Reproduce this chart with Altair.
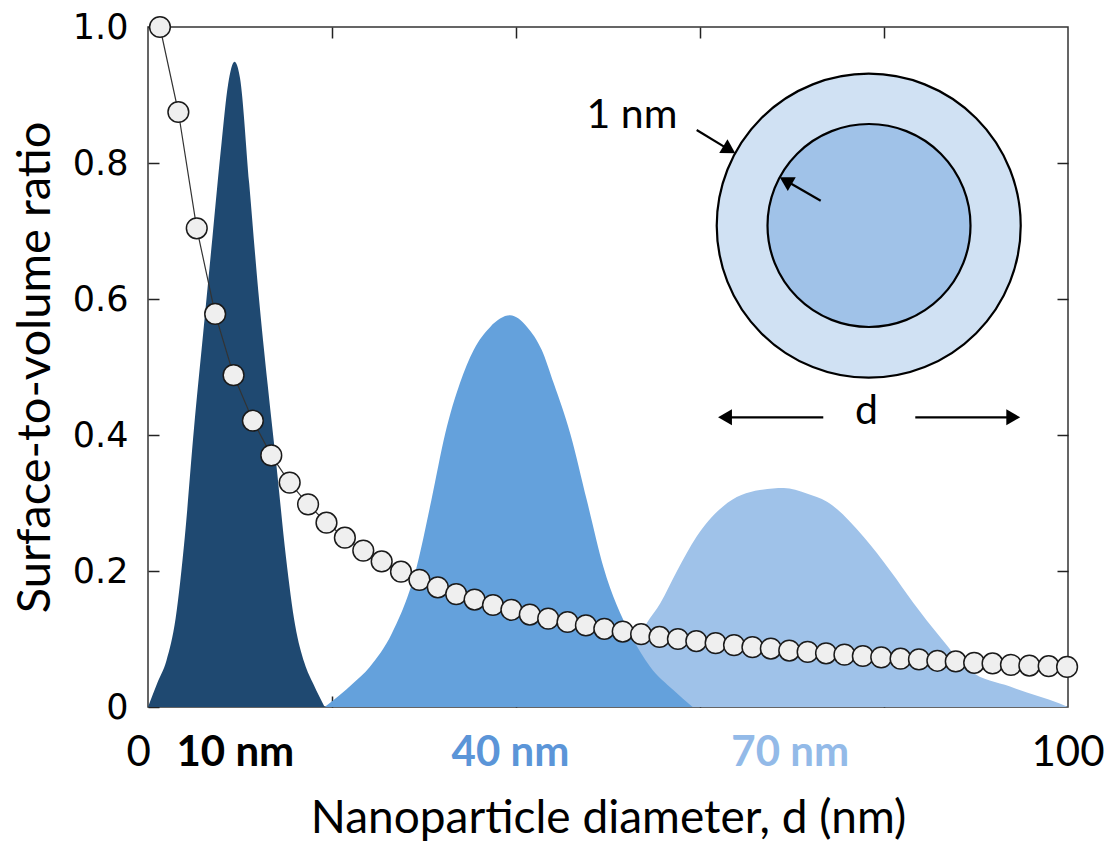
import altair as alt
import pandas as pd

# ---------------- data ----------------
ratio_d = [1.3, 3.3, 5.3, 7.3, 9.3, 11.4, 13.4, 15.4, 17.4, 19.4,
           21.4, 23.4, 25.4, 27.5, 29.5, 31.5, 33.5, 35.5, 37.5, 39.5,
           41.5, 43.5, 45.6, 47.6, 49.6, 51.6, 53.6, 55.6, 57.6, 59.6,
           61.7, 63.7, 65.7, 67.7, 69.7, 71.7, 73.7, 75.7, 77.7, 79.7,
           81.8, 83.8, 85.8, 87.8, 89.8, 91.8, 93.8, 95.8, 97.9, 99.9]
ratio_v = [1.0, 0.875, 0.704, 0.578, 0.488, 0.421, 0.370, 0.330, 0.298, 0.271,
           0.249, 0.230, 0.214, 0.199, 0.187, 0.176, 0.166, 0.158, 0.150, 0.143,
           0.136, 0.130, 0.125, 0.120, 0.115, 0.111, 0.107, 0.103, 0.100, 0.097,
           0.094, 0.091, 0.088, 0.086, 0.083, 0.081, 0.079, 0.077, 0.075, 0.073,
           0.071, 0.070, 0.068, 0.067, 0.065, 0.064, 0.062, 0.061, 0.060, 0.059]

dark_d = [0, 1, 2, 3, 4, 5, 6, 7, 8, 8.7, 9.4, 10, 11, 12, 13, 14, 15, 16, 17, 18, 19.2]
dark_v = [0, 0.035, 0.068, 0.13, 0.25, 0.41, 0.55, 0.69, 0.83, 0.915, 0.949, 0.925, 0.77, 0.61, 0.475, 0.35, 0.22, 0.12, 0.065, 0.033, 0]

med_d = [19.2, 22.3, 24.1, 26.5, 29.2, 30.8, 32.3, 33.9, 35.4, 37.2, 39.35, 41.2, 42.8, 44.1, 45.9, 47.7, 49.5, 52.4, 54.6, 57.1, 59.2]
med_v = [0, 0.035, 0.059, 0.108, 0.206, 0.304, 0.402, 0.476, 0.525, 0.559, 0.576, 0.559, 0.525, 0.476, 0.402, 0.304, 0.206, 0.108, 0.059, 0.025, 0]

light_d = [46, 50, 52.5, 54.2, 55.7, 57.5, 59.6, 62.5, 66.5, 69.1, 71.6, 73.8, 77.8, 80.7, 83.2, 86.1, 89.3, 93.7, 99.1, 100]
light_v = [0, 0.04, 0.08, 0.123, 0.153, 0.20, 0.25, 0.295, 0.319, 0.322, 0.314, 0.302, 0.25, 0.20, 0.153, 0.103, 0.054, 0.03, 0.005, 0]

x_ticks = [20, 40, 60, 80]
y_ticks_left = [0, 0.2, 0.4, 0.6, 0.8, 1.0]
y_ticks_right = [0.2, 0.4, 0.6, 0.8]

xlab_pos = [-1.0, 9.5, 39.4, 69.8, 100]
xlab_text = ["0", "10 nm", "40 nm", "70 nm", "100"]
xlab_color = ["#000000", "#000000", "#5b95d8", "#93bae8", "#000000"]
xlab_bold = [False, True, True, True, False]

# inset diagram (annotation positions in data units)
circ_x = [78.34, 78.37]
circ_y = [0.7078, 0.7081]
circ_size = [92416, 41209]
circ_fill = ["#d0e1f3", "#a0c2e8"]

arrow_x1 = [59.64, 73.12, 73.4, 83.4]
arrow_y1 = [0.8485, 0.7446, 0.426, 0.426]
arrow_x2 = [62.97, 69.54, 62.97, 93.8]
arrow_y2 = [0.8212, 0.7724, 0.426, 0.426]
arrow_angle = [121, 300, 270, 90]

note_text = ["1 nm", "d"]
note_x = [52.6, 78.1]
note_y = [0.869, 0.434]

# ---------------- chart ----------------
W, H = 920, 680
xs = alt.Scale(domain=[0, 100], nice=False, zero=False)
ys = alt.Scale(domain=[0, 1], nice=False, zero=False)

def X(f, axis=None):
    return alt.X(f, type="quantitative", scale=xs, axis=axis, title=None)

def Y(f, axis=None):
    return alt.Y(f, type="quantitative", scale=ys, axis=axis, title=None)

tick_style = dict(tickSize=11, offset=-11, domain=False, grid=False,
                  tickColor="#222222", tickWidth=1.5)

ax_bottom = alt.Axis(orient="bottom", values=x_ticks, labels=False,
                     title="Nanoparticle diameter, d (nm)", titleFont="Lato",
                     titleFontSize=46, titleFontWeight="normal", titleColor="black",
                     titlePadding=89, **tick_style)
ax_left = alt.Axis(orient="left", values=y_ticks_left,
                   labelExpr="datum.value == 0 ? '0' : format(datum.value, '.1f')",
                   labelFont="DejaVu Sans", labelFontSize=35, labelColor="black",
                   labelPadding=20,
                   title="Surface-to-volume ratio", titleFont="Lato",
                   titleFontSize=47, titleFontWeight="normal", titleColor="black",
                   titlePadding=13, **tick_style)
ax_top = alt.Axis(orient="top", values=x_ticks, labels=False, title="", **tick_style)
ax_right = alt.Axis(orient="right", values=y_ticks_right, labels=False, title="", **tick_style)

light = alt.Chart(pd.DataFrame({"d": light_d, "v": light_v})).mark_area(
    interpolate="monotone", color="#9fc2e9").encode(
    x=alt.X("d", type="quantitative", scale=xs, axis=ax_bottom, title="Nanoparticle diameter, d (nm)"),
    y=alt.Y("v", type="quantitative", scale=ys, axis=ax_left, title="Surface-to-volume ratio"))
med = alt.Chart(pd.DataFrame({"d": med_d, "v": med_v})).mark_area(
    interpolate="monotone", color="#64a1dc").encode(x=X("d"), y=Y("v"))
dark = alt.Chart(pd.DataFrame({"d": dark_d, "v": dark_v})).mark_area(
    interpolate="monotone", color="#1f4971").encode(x=X("d"), y=Y("v"))

rdf = pd.DataFrame({"d": ratio_d, "v": ratio_v})
line = alt.Chart(rdf).mark_line(color="#333333", strokeWidth=1.2).encode(x=X("d"), y=Y("v"))
pts = alt.Chart(rdf).mark_circle(size=430, color="#efefef", stroke="#1a1a1a",
                                 strokeWidth=1.5, opacity=1).encode(
    x=X("d", ax_top), y=Y("v", ax_right))

circ = alt.Chart(pd.DataFrame({"x": circ_x, "y": circ_y, "s": circ_size, "c": circ_fill})).mark_circle(
    stroke="black", strokeWidth=2.2, opacity=1).encode(
    x=X("x"), y=Y("y"), size=alt.Size("s:Q", scale=None, legend=None),
    color=alt.Color("c:N", scale=None, legend=None))

adf = pd.DataFrame({"x1": arrow_x1, "y1": arrow_y1, "x2": arrow_x2, "y2": arrow_y2, "a": arrow_angle})
shafts = alt.Chart(adf).mark_rule(color="black", strokeWidth=2.2).encode(
    x=X("x1"), y=Y("y1"), x2="x2", y2="y2")
heads = alt.Chart(adf).mark_point(shape="triangle", filled=True, color="black",
                                  size=256, opacity=1).encode(
    x=X("x2"), y=Y("y2"), angle=alt.Angle("a:Q", scale=None))

notes = alt.Chart(pd.DataFrame({"t": note_text, "x": note_x, "y": note_y})).mark_text(
    font="Lato", fontSize=41, color="black", align="center", baseline="middle").encode(
    x=X("x"), y=Y("y"), text="t:N")

xl = pd.DataFrame({"x": xlab_pos, "t": xlab_text, "c": xlab_color, "b": xlab_bold})
xl_norm = alt.Chart(xl[~xl["b"]]).mark_text(
    font="Lato", fontSize=42, align="center", baseline="middle").encode(
    x=X("x"), y=alt.value(H + 46), text="t:N", color=alt.Color("c:N", scale=None, legend=None))
xl_bold = alt.Chart(xl[xl["b"]]).mark_text(
    font="Lato", fontSize=42, fontWeight="bold", align="center", baseline="middle").encode(
    x=X("x"), y=alt.value(H + 46), text="t:N", color=alt.Color("c:N", scale=None, legend=None))

chart = alt.layer(light, med, dark, line, pts, circ, shafts, heads, notes, xl_norm, xl_bold).resolve_axis(
    x="independent", y="independent").properties(
    width=W, height=H,
    autosize=alt.AutoSizeParams(type="none"),
    padding={"left": 148, "top": 27, "right": 39, "bottom": 137},
    background="white",
).configure_view(stroke="#333333", strokeWidth=1.5)

chart.save("out.html", embed_options={"renderer": "svg", "actions": False})
